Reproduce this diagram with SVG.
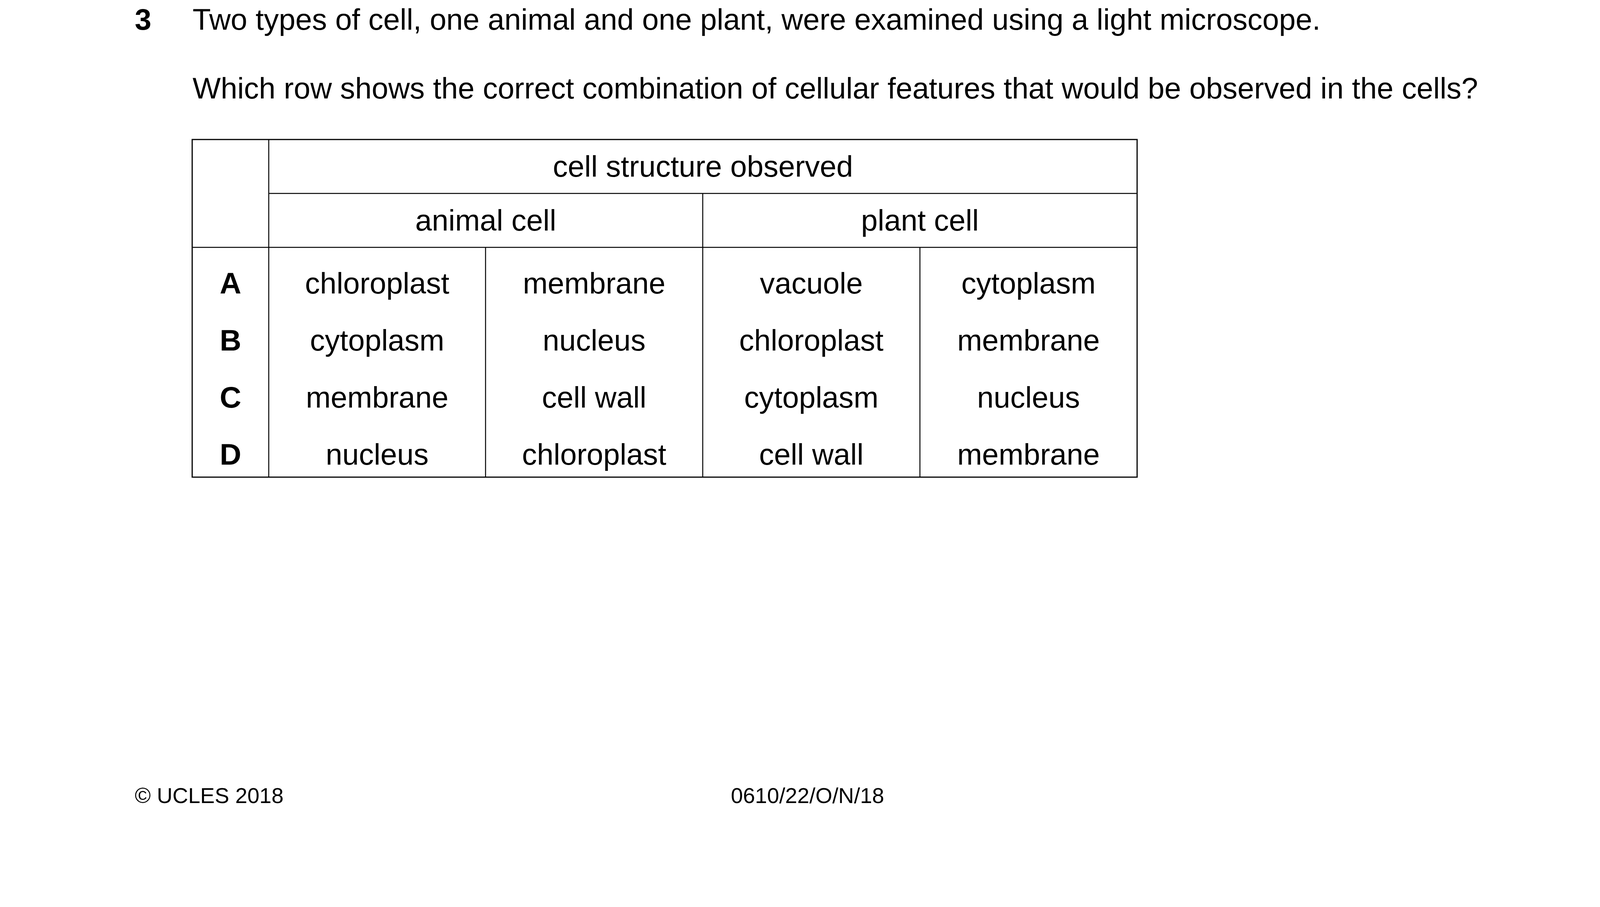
<svg xmlns="http://www.w3.org/2000/svg" width="4132" height="2321" viewBox="0 0 4132 2321">
<style>
text{font-family:"Liberation Sans",Arial,sans-serif;fill:#000;}
.t{font-size:76.4px;}
.c{font-size:76.4px;text-anchor:middle;}
.b{font-size:76.4px;font-weight:bold;text-anchor:middle;}
.f{font-size:55.6px;}
.o{stroke:#000;stroke-width:3;fill:none;}
.i{stroke:#000;stroke-width:2.5;fill:none;}
</style>
<rect width="4132" height="2321" fill="#fff"/>
<g id="question">
<text x="345" y="76" class="t" font-weight="bold">3</text>
<text x="493" y="76" class="t">Two types of cell, one animal and one plant, were examined using a light microscope.</text>
<text x="493" y="252" class="t">Which row shows the correct combination of cellular features that would be observed in the cells?</text>
</g>
<g id="table-lines">
<rect x="492" y="357" width="2419" height="864" class="o"/>
<line x1="688" y1="357" x2="688" y2="1221" class="i"/>
<line x1="688" y1="495" x2="2911" y2="495" class="i"/>
<line x1="492" y1="633" x2="2911" y2="633" class="i"/>
<line x1="1799" y1="495" x2="1799" y2="1221" class="i"/>
<line x1="1243" y1="633" x2="1243" y2="1221" class="i"/>
<line x1="2355" y1="633" x2="2355" y2="1221" class="i"/>
</g>
<g id="headers">
<text x="1799.5" y="452" class="c">cell structure observed</text>
<text x="1243.5" y="590" class="c">animal cell</text>
<text x="2355" y="590" class="c">plant cell</text>
</g>
<g id="row-A">
<text x="590" y="751" class="b">A</text>
<text x="965.5" y="751" class="c">chloroplast</text>
<text x="1521" y="751" class="c">membrane</text>
<text x="2077" y="751" class="c">vacuole</text>
<text x="2633" y="751" class="c">cytoplasm</text>
</g>
<g id="row-B">
<text x="590" y="897" class="b">B</text>
<text x="965.5" y="897" class="c">cytoplasm</text>
<text x="1521" y="897" class="c">nucleus</text>
<text x="2077" y="897" class="c">chloroplast</text>
<text x="2633" y="897" class="c">membrane</text>
</g>
<g id="row-C">
<text x="590" y="1043" class="b">C</text>
<text x="965.5" y="1043" class="c">membrane</text>
<text x="1521" y="1043" class="c">cell wall</text>
<text x="2077" y="1043" class="c">cytoplasm</text>
<text x="2633" y="1043" class="c">nucleus</text>
</g>
<g id="row-D">
<text x="590" y="1189" class="b">D</text>
<text x="965.5" y="1189" class="c">nucleus</text>
<text x="1521" y="1189" class="c">chloroplast</text>
<text x="2077" y="1189" class="c">cell wall</text>
<text x="2633" y="1189" class="c">membrane</text>
</g>
<g id="footer">
<text x="345" y="2055" class="f">© UCLES 2018</text>
<text x="1871" y="2055" class="f">0610/22/O/N/18</text>
</g>
</svg>
